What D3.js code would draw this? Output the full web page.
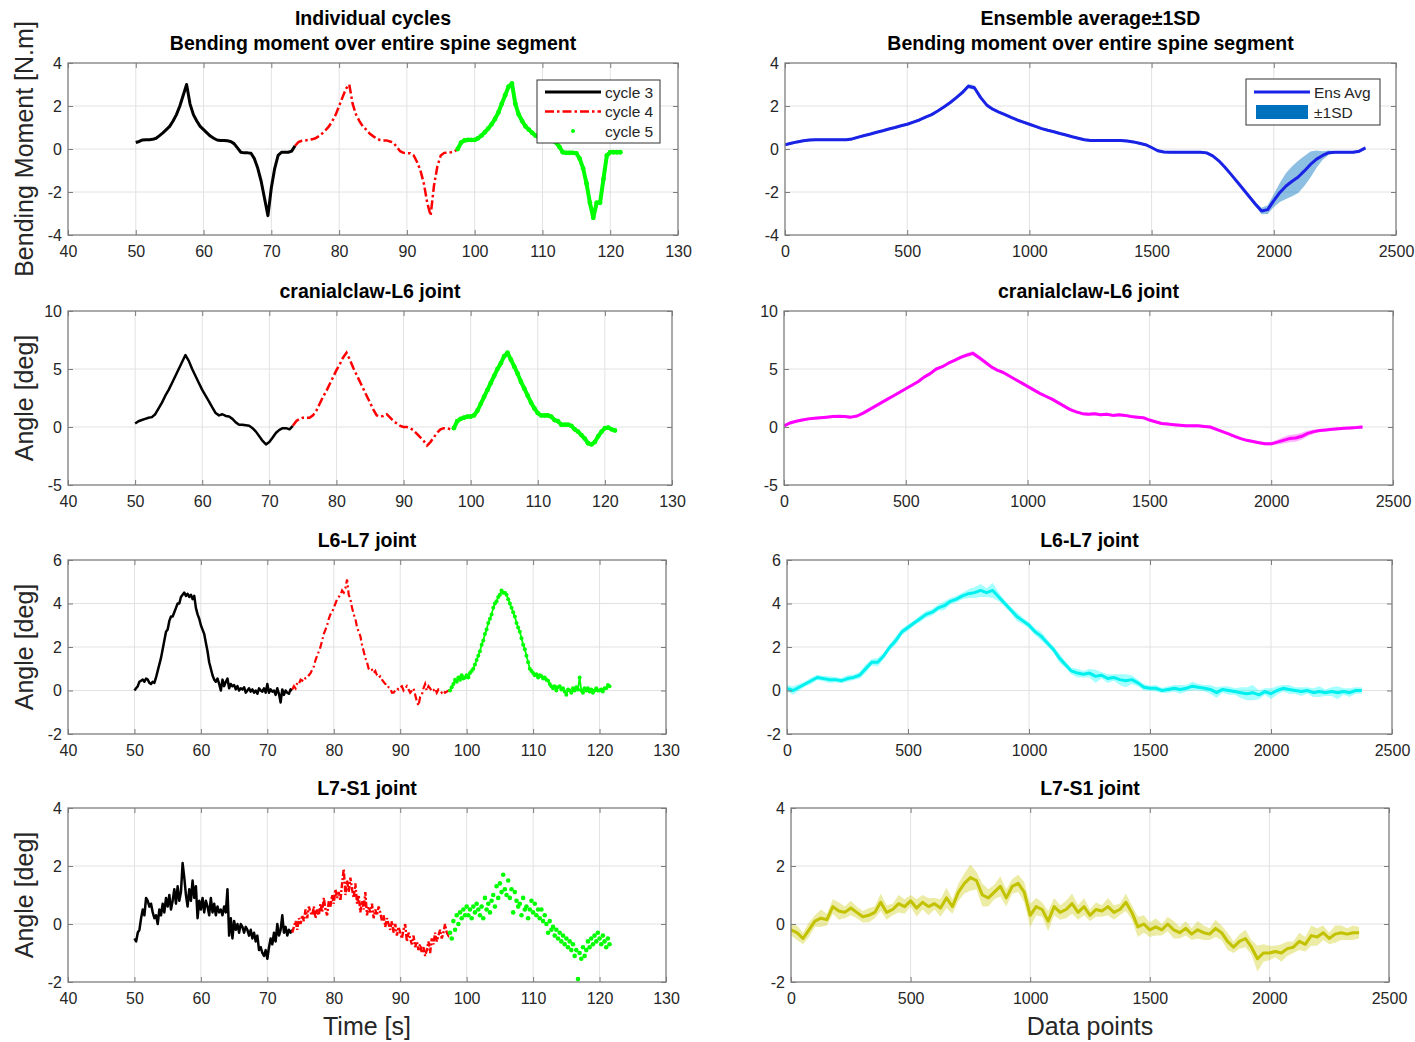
<!DOCTYPE html>
<html><head><meta charset="utf-8">
<script src="https://cdn.jsdelivr.net/npm/d3@7"></script>
<style>body{margin:0;background:#fff}</style>
</head><body>
<svg id="c" width="1415" height="1042" xmlns="http://www.w3.org/2000/svg"></svg>
<script>
// ---------------- DATA ----------------
// Left column: individual cycles, values sampled on a fixed time step from each cycle start
const smoothStarts = [50, 73.5, 97.5];   // s
const smoothStep = 0.5;                  // s
const noisyStarts = [50, 73.75, 97.5];   // s
const noisyStep = 0.25;                  // s
const ensStep = 25;                      // data points

const cycleNames = ["cycle 3", "cycle 4", "cycle 5"];

// Bending moment [N.m]
const bmCycle3 = [0.3,0.35,0.42,0.43,0.43,0.45,0.5,0.62,0.75,0.9,1.05,1.3,1.6,2.0,2.5,3.0,2.1,1.6,1.3,1.05,0.9,0.75,0.6,0.5,0.42,0.4,0.4,0.38,0.35,0.25,0.05,-0.15,-0.18,-0.18,-0.2,-0.45,-0.9,-1.5,-2.3,-3.1,-1.8,-0.9,-0.3,-0.15,-0.15,-0.15,-0.1,0.15];
const bmCycle4 = [0.15,0.32,0.38,0.4,0.42,0.45,0.5,0.6,0.72,0.88,1.05,1.3,1.6,2.0,2.4,2.8,3.0,2.1,1.6,1.3,1.05,0.9,0.72,0.6,0.5,0.42,0.4,0.4,0.35,0.3,0.1,-0.1,-0.18,-0.2,-0.2,-0.3,-0.6,-1.0,-1.6,-2.5,-3.1,-1.7,-0.8,-0.3,-0.18,-0.17,-0.15,-0.12,0.0];
const bmCycle5 = [0.0,0.3,0.4,0.42,0.42,0.42,0.5,0.62,0.78,0.95,1.15,1.4,1.7,2.1,2.5,2.9,3.05,2.1,1.6,1.3,1.05,0.9,0.75,0.62,0.52,0.45,0.42,0.4,0.38,0.3,0.1,-0.15,-0.18,-0.18,-0.18,-0.2,-0.45,-0.9,-1.6,-2.5,-3.2,-2.5,-2.5,-1.4,-0.3,-0.15,-0.15,-0.15,-0.15];

// cranialclaw-L6 angle [deg]
const ccCycle3 = [0.3,0.5,0.6,0.7,0.8,0.85,1.1,1.6,2.1,2.7,3.2,3.8,4.4,5.0,5.6,6.2,5.7,5.0,4.4,3.8,3.2,2.7,2.2,1.7,1.2,1.0,1.1,0.95,0.9,0.7,0.4,0.2,0.2,0.15,0.1,-0.1,-0.4,-0.8,-1.2,-1.5,-1.3,-0.9,-0.5,-0.25,-0.1,-0.1,-0.2,0.1];
const ccCycle4 = [0.1,0.5,0.7,0.8,0.8,0.8,1.0,1.4,2.0,2.6,3.1,3.7,4.3,4.9,5.4,6.0,6.4,5.8,5.1,4.5,3.9,3.3,2.7,2.1,1.5,1.0,0.9,0.95,1.1,0.8,0.5,0.3,0.1,0.0,0.0,-0.1,-0.3,-0.6,-0.9,-1.2,-1.6,-1.3,-0.9,-0.5,-0.2,-0.1,-0.1,-0.2,-0.1];
const ccCycle5 = [-0.1,0.5,0.7,0.8,0.9,0.9,1.0,1.4,2.0,2.6,3.2,3.8,4.4,5.0,5.5,6.1,6.4,5.8,5.2,4.6,3.9,3.3,2.7,2.1,1.6,1.2,1.0,1.0,1.0,0.9,0.6,0.5,0.2,0.2,0.2,0.1,-0.2,-0.4,-0.7,-1.0,-1.4,-1.5,-1.3,-0.8,-0.4,-0.1,-0.05,-0.2,-0.3];

// L6-L7 angle [deg]
const l67Cycle3 = [0.0,0.1,0.2,0.4, 0.45,0.5,0.4,0.55, 0.5,0.35,0.3,0.4, 0.35,0.6,0.9,1.2, 1.5,1.9,2.3,2.7, 2.8,3.2,3.4,3.4, 3.6,3.8,4.0,4.0, 4.3,4.4,4.5,4.35, 4.45,4.3,4.4,4.2, 4.35,3.8,3.5,3.3, 3.0,2.8,2.6,2.2, 1.8,1.3,1.0,0.7, 0.5,0.4,0.55,0.3, 0.0,0.5,0.2,0.4, 0.55,0.1,0.3,0.2, 0.25,0.05,0.2,0.0, 0.1,0.05,0.15,-0.1, 0.0,0.1,-0.05,0.05, -0.1,0.0,-0.15,0.1, 0.0,-0.05,0.1,-0.1, 0.3,-0.1,0.05,-0.05, 0.0,-0.2,0.1,-0.15, -0.55,0.05,-0.2,0.0, -0.1,-0.15,0.05,0.0];
const l67Cycle4 = [0.05, 0.2,0.1,0.35,0.3, 0.5,0.45,0.6,0.55, 0.6,0.7,0.8,0.95, 1.1,1.4,1.6,1.8, 2.0,2.3,2.6,2.8, 3.0,3.3,3.5,3.6, 3.8,4.0,4.2,4.3, 4.4,4.6,4.5,4.7, 5.1,4.4,4.2,3.8, 3.5,3.3,2.9,2.7, 2.5,2.1,1.8,1.5, 1.3,1.0,0.9,0.95, 0.8,0.9,0.7,0.6, 0.65,0.5,0.4,0.3, 0.3,0.15,0.1,-0.1, -0.1,0.0,0.1,0.05, 0.15,0.2,0.0,0.1, 0.2,0.05,-0.1,0.0, 0.1,-0.2,-0.5,-0.7, -0.3,-0.2,0.1,0.3, 0.0,0.2,0.1,-0.05, 0.0,0.1,-0.1,0.05, 0.0,-0.1,0.0,-0.1, -0.05,0.0,0.0];
const l67Cycle5 = [0.0,0.15, 0.3,0.5,0.4,0.6, 0.5,0.7,0.55,0.6, 0.7,0.6,0.8,0.9, 1.0,1.2,1.4,1.6, 1.8,2.1,2.3,2.6, 2.8,3.1,3.3,3.5, 3.8,4.0,4.1,4.3, 4.4,4.6,4.5,4.5, 4.4,4.2,4.0,3.8, 3.6,3.4,3.1,2.9, 2.7,2.4,2.1,1.9, 1.6,1.3,1.0,0.9, 0.8,0.7,0.75,0.6, 0.7,0.65,0.55,0.6, 0.5,0.45,0.3,0.2, 0.1,0.2,0.0,0.15, 0.2,0.05,0.1,-0.05, -0.2,0.05,0.0,-0.1, 0.1,0.0,0.15,0.05, 0.6,0.0,-0.1,0.1, 0.0,0.1,-0.05,0.05, -0.1,0.0,0.1,0.0, 0.0,0.05,-0.05,0.1, 0.1,0.25,0.2];

// L7-S1 angle [deg]
const l7sCycle3 = [-0.5,-0.6,-0.3,-0.2, 0.2,0.5,0.3,0.9, 0.8,0.6,0.7,0.4, 0.2,0.3,0.0,0.5, 0.3,0.7,0.4,0.9, 0.6,1.0,0.5,0.8, 1.2,0.7,1.3,0.8, 1.1,2.1,1.6,1.0, 0.6,1.2,0.8,1.5, 0.9,1.3,0.2,0.8, 0.5,0.9,0.4,0.8, 0.6,0.3,0.9,0.4, 0.7,0.3,0.6,0.4, 0.5,0.3,0.6,0.4, 1.2,-0.4,0.2,-0.5, 0.1,-0.2,0.0,-0.3, 0.0,-0.1,-0.3,-0.1, -0.2,-0.4,-0.2,-0.5, -0.3,-0.6,-0.4,-0.9, -0.8,-1.0,-1.1,-0.9, -1.2,-0.8,-0.5,-0.7, -0.3,-0.6,0.0,-0.4, -0.2,0.3,-0.3,-0.1, -0.4,-0.2,-0.3,-0.2];
const l7sCycle4 = [-0.3, -0.1,0.1,-0.2,0.2, 0.0,0.3,0.1,0.5, 0.2,0.6,0.4,0.3, 0.6,0.2,0.5,0.3, 0.7,0.4,0.9,0.5, 0.3,0.8,0.6,1.0, 0.7,1.2,0.9,1.1, 0.8,1.4,1.9,1.0, 1.5,1.1,1.6,1.2, 0.9,1.4,0.7,1.0, 0.4,0.8,0.5,1.1, 0.3,0.6,0.4,0.7, 0.2,0.5,0.3,0.6, 0.4,0.1,0.3,-0.1, 0.2,0.0,-0.2,0.1, -0.3,0.0,-0.4,-0.1, -0.3,-0.5,-0.2,0.0, -0.6,-0.3,-0.5,-0.7, -0.4,-0.8,-0.6,-0.9, -0.7,-1.0,-0.8,-1.1, -0.9,-0.6,-1.0,-0.5, -0.7,-0.3,-0.6,-0.4, -0.2,-0.5,-0.3,0.0, -0.3,-0.4,-0.3];
const l7sCycle5 = [-0.3,-0.5, 0.1,-0.2,0.3,0.0, 0.4,0.2,0.5,0.3, 0.6,0.3,0.5,0.2, 0.6,0.4,0.7,0.5, 0.3,0.6,0.2,0.9, 0.5,0.7,0.4,0.8, 1.0,0.6,1.3,0.9, 1.4,1.1,1.7,1.2, 1.0,1.5,0.9,1.2, 0.4,1.1,0.8,0.6, 0.7,0.3,0.9,0.5, 0.6,0.2,0.5,0.8, 0.4,0.7,0.3,0.5, 0.2,0.5,0.1,0.3, 0.0,-0.3,0.1,-0.2, -0.1,-0.4,-0.2,-0.5, -0.3,-0.6,-0.4,-0.7, -0.5,-0.8,-0.6,-0.9, -0.7,-1.1,-0.9,-1.9, -1.0,-1.2,-0.8,-1.1, -0.9,-0.6,-0.8,-0.5, -0.7,-0.4,-0.6,-0.3, -0.5,-0.7,-0.4,-0.6, -0.8,-0.5,-0.7];

// Right column: ensemble average and 1 SD, every 25 data points from 0
const bmEnsMean = [0.2,0.27,0.33,0.38,0.42,0.43,0.43,0.43,0.43,0.43,0.43,0.47,0.55,0.63,0.7,0.78,0.85,0.93,1.0,1.08,1.15,1.25,1.35,1.48,1.6,1.77,1.95,2.15,2.38,2.62,2.92,2.85,2.4,2.05,1.85,1.72,1.6,1.47,1.35,1.25,1.15,1.05,0.95,0.87,0.8,0.72,0.65,0.57,0.5,0.43,0.4,0.4,0.4,0.4,0.4,0.39,0.37,0.33,0.27,0.2,0.07,-0.08,-0.14,-0.15,-0.15,-0.15,-0.15,-0.15,-0.15,-0.18,-0.32,-0.55,-0.85,-1.18,-1.52,-1.87,-2.22,-2.57,-2.88,-2.82,-2.4,-2.02,-1.72,-1.5,-1.3,-1.02,-0.72,-0.47,-0.3,-0.17,-0.15,-0.15,-0.15,-0.15,-0.1,0.05];
const bmEnsSD = [0.06,0.06,0.06,0.06,0.06,0.06,0.06,0.06,0.06,0.06,0.06,0.06,0.06,0.06,0.06,0.06,0.06,0.06,0.06,0.06,0.06,0.06,0.06,0.06,0.06,0.06,0.06,0.07,0.08,0.1,0.1,0.1,0.09,0.07,0.06,0.06,0.06,0.06,0.06,0.06,0.06,0.06,0.06,0.06,0.06,0.06,0.06,0.06,0.06,0.06,0.06,0.06,0.06,0.06,0.06,0.06,0.06,0.06,0.06,0.06,0.06,0.06,0.06,0.06,0.06,0.06,0.06,0.06,0.06,0.06,0.06,0.06,0.06,0.06,0.07,0.08,0.08,0.1,0.15,0.2,0.3,0.45,0.6,0.7,0.75,0.7,0.6,0.4,0.2,0.1,0.06,0.06,0.06,0.06,0.06,0.06];

const ccEnsMean = [0.1,0.35,0.5,0.6,0.7,0.75,0.8,0.85,0.9,0.92,0.9,0.85,0.95,1.2,1.5,1.8,2.1,2.4,2.7,3.0,3.3,3.6,3.9,4.3,4.6,5.0,5.2,5.5,5.75,6.0,6.2,6.35,6.0,5.6,5.2,4.9,4.7,4.4,4.1,3.8,3.5,3.2,2.9,2.65,2.4,2.1,1.8,1.5,1.3,1.15,1.1,1.15,1.05,1.1,1.0,1.05,1.0,0.9,0.85,0.8,0.6,0.45,0.3,0.25,0.2,0.15,0.1,0.1,0.1,0.05,0.0,-0.2,-0.4,-0.6,-0.8,-1.0,-1.15,-1.25,-1.35,-1.45,-1.45,-1.3,-1.15,-1.0,-0.95,-0.8,-0.55,-0.4,-0.3,-0.25,-0.2,-0.15,-0.1,-0.08,-0.05,0.0];
const ccEnsSD = [0.12,0.12,0.12,0.12,0.12,0.12,0.12,0.12,0.12,0.12,0.12,0.12,0.12,0.12,0.12,0.12,0.12,0.12,0.12,0.12,0.12,0.12,0.12,0.12,0.12,0.12,0.12,0.12,0.12,0.15,0.18,0.2,0.2,0.18,0.15,0.12,0.12,0.12,0.12,0.12,0.12,0.12,0.12,0.12,0.12,0.12,0.12,0.12,0.12,0.12,0.12,0.12,0.12,0.12,0.12,0.12,0.12,0.12,0.12,0.12,0.12,0.12,0.12,0.12,0.12,0.12,0.12,0.12,0.12,0.12,0.12,0.12,0.12,0.12,0.12,0.12,0.12,0.12,0.12,0.12,0.15,0.2,0.28,0.32,0.32,0.3,0.25,0.18,0.12,0.12,0.12,0.12,0.12,0.12,0.12,0.12];

const l67EnsMean = [0.1,0.0,0.15,0.3,0.45,0.6,0.55,0.5,0.5,0.45,0.55,0.6,0.7,1.0,1.3,1.3,1.6,2.0,2.3,2.7,2.9,3.1,3.3,3.5,3.6,3.8,3.9,4.1,4.2,4.35,4.45,4.5,4.6,4.5,4.6,4.3,4.0,3.7,3.4,3.2,3.0,2.7,2.5,2.2,1.9,1.5,1.2,0.9,0.8,0.75,0.8,0.65,0.7,0.55,0.6,0.5,0.45,0.5,0.35,0.15,0.1,0.1,0.0,0.05,0.1,0.05,0.1,0.2,0.15,0.1,0.05,-0.1,0.05,0.0,-0.05,-0.1,-0.15,-0.1,-0.2,-0.05,-0.15,0.0,0.1,0.05,0.0,-0.05,0.0,-0.1,-0.05,-0.1,-0.05,-0.1,-0.05,-0.1,0.0,0.0];
const l67EnsSD = [0.15,0.2,0.15,0.12,0.15,0.12,0.12,0.15,0.12,0.12,0.15,0.12,0.15,0.2,0.15,0.2,0.15,0.15,0.2,0.15,0.15,0.12,0.15,0.15,0.15,0.15,0.2,0.15,0.15,0.15,0.2,0.25,0.3,0.2,0.35,0.2,0.15,0.15,0.2,0.15,0.15,0.15,0.2,0.15,0.15,0.2,0.15,0.15,0.2,0.15,0.2,0.3,0.15,0.2,0.15,0.25,0.3,0.2,0.15,0.15,0.12,0.15,0.12,0.15,0.15,0.2,0.15,0.2,0.15,0.15,0.2,0.25,0.15,0.2,0.15,0.25,0.3,0.35,0.2,0.15,0.25,0.2,0.15,0.2,0.15,0.2,0.15,0.2,0.25,0.15,0.2,0.3,0.15,0.2,0.15,0.15];

const l7sEnsMean = [-0.2,-0.3,-0.5,-0.2,0.1,0.2,0.15,0.6,0.45,0.4,0.55,0.4,0.25,0.3,0.4,0.75,0.4,0.5,0.7,0.6,0.8,0.55,0.75,0.6,0.7,0.55,0.9,0.6,1.1,1.4,1.6,1.5,1.0,0.9,1.1,1.3,0.9,1.3,1.4,1.1,0.3,0.6,0.5,0.1,0.6,0.4,0.5,0.7,0.4,0.6,0.3,0.5,0.45,0.6,0.4,0.5,0.75,0.4,-0.1,0.0,-0.2,-0.1,-0.2,0.0,-0.2,-0.3,-0.15,-0.35,-0.2,-0.3,-0.35,-0.15,-0.3,-0.6,-0.8,-0.6,-0.5,-0.8,-1.2,-1.0,-1.0,-0.95,-1.0,-0.85,-0.8,-0.6,-0.7,-0.4,-0.45,-0.3,-0.5,-0.35,-0.3,-0.35,-0.3,-0.3];
const l7sEnsSD = [0.2,0.25,0.2,0.25,0.2,0.3,0.2,0.25,0.3,0.2,0.25,0.2,0.2,0.25,0.2,0.3,0.25,0.2,0.3,0.25,0.2,0.3,0.25,0.3,0.2,0.3,0.35,0.25,0.3,0.35,0.45,0.3,0.4,0.3,0.25,0.35,0.3,0.25,0.3,0.35,0.4,0.3,0.25,0.35,0.3,0.25,0.3,0.35,0.25,0.3,0.2,0.25,0.2,0.3,0.25,0.2,0.3,0.25,0.35,0.3,0.25,0.3,0.2,0.25,0.3,0.2,0.25,0.2,0.3,0.25,0.2,0.3,0.25,0.3,0.2,0.25,0.3,0.25,0.45,0.3,0.25,0.2,0.3,0.25,0.2,0.3,0.25,0.35,0.3,0.25,0.2,0.3,0.25,0.2,0.25,0.2];

// Axes ticks and labels
const timeTicks = [40,50,60,70,80,90,100,110,120,130];
const pointTicks = [0,500,1000,1500,2000,2500];
const bmTicks = [-4,-2,0,2,4];
const ccTicks = [-5,0,5,10];
const l67Ticks = [-2,0,2,4,6];
const l7sTicks = [-2,0,2,4];
const leftTitles = [["Individual cycles","Bending moment over entire spine segment"],["cranialclaw-L6 joint"],["L6-L7 joint"],["L7-S1 joint"]];
const rightTitles = [["Ensemble average\u00b11SD","Bending moment over entire spine segment"],["cranialclaw-L6 joint"],["L6-L7 joint"],["L7-S1 joint"]];
const yLabels = ["Bending Moment [N.m]","Angle [deg]","Angle [deg]","Angle [deg]"];
const ensLegend = ["Ens Avg","\u00b11SD"];

// ---------------- DRAWING ----------------
const svg = d3.select('#c');
const FONT = "'Liberation Sans', Arial, Helvetica, sans-serif";
const TXT = '#262626';
const AX = '#7d7d7d';
const fmt = d => String(d);   // plain hyphen-minus like the original
let clipId = 0;

function panel(cfg) {
  const {l, t, r, b} = cfg.box;
  const x = d3.scaleLinear().domain(d3.extent(cfg.xt)).range([l, r]);
  const y = d3.scaleLinear().domain(d3.extent(cfg.yt)).range([b, t]);
  const g = svg.append('g');
  g.append('rect').attr('x', l).attr('y', t).attr('width', r - l).attr('height', b - t).attr('fill', '#fff');
  // grid
  g.append('g').selectAll('line').data(cfg.xt.slice(1, -1)).join('line')
    .attr('x1', d => x(d)).attr('x2', d => x(d)).attr('y1', t).attr('y2', b)
    .attr('stroke', '#e2e2e2').attr('stroke-width', 1);
  g.append('g').selectAll('line').data(cfg.yt.slice(1, -1)).join('line')
    .attr('y1', d => y(d)).attr('y2', d => y(d)).attr('x1', l).attr('x2', r)
    .attr('stroke', '#e2e2e2').attr('stroke-width', 1);
  // data
  const id = 'clip' + (clipId++);
  g.append('clipPath').attr('id', id).append('rect').attr('x', l).attr('y', t).attr('width', r - l).attr('height', b - t);
  const gd = g.append('g').attr('clip-path', `url(#${id})`);
  cfg.draw(gd, x, y);
  // axes
  const styleAxis = (sel) => {
    sel.select('.domain').remove();
    sel.selectAll('.tick line').attr('stroke', AX).attr('stroke-width', 1);
    sel.selectAll('.tick text').attr('fill', TXT).attr('font-family', FONT).attr('font-size', 16);
  };
  g.append('g').attr('transform', `translate(0,${b})`)
    .call(d3.axisBottom(x).tickValues(cfg.xt).tickSize(-5).tickPadding(11).tickFormat(fmt)).call(styleAxis);
  g.append('g').attr('transform', `translate(0,${t})`)
    .call(d3.axisTop(x).tickValues(cfg.xt).tickSize(-5).tickFormat('')).call(styleAxis);
  g.append('g').attr('transform', `translate(${l},0)`)
    .call(d3.axisLeft(y).tickValues(cfg.yt).tickSize(-5).tickPadding(6).tickFormat(fmt)).call(styleAxis);
  g.append('g').attr('transform', `translate(${r},0)`)
    .call(d3.axisRight(y).tickValues(cfg.yt).tickSize(-5).tickFormat('')).call(styleAxis);
  g.append('rect').attr('x', l).attr('y', t).attr('width', r - l).attr('height', b - t)
    .attr('fill', 'none').attr('stroke', AX).attr('stroke-width', 1.3);
  // title
  const cx = (l + r) / 2;
  const lines = cfg.title;
  lines.forEach((s, i) => {
    svg.append('text').attr('x', cx).attr('y', t - 13 - (lines.length - 1 - i) * 25)
      .attr('text-anchor', 'middle').attr('font-family', FONT).attr('font-weight', 'bold')
      .attr('font-size', 19.5).attr('fill', '#000').text(s);
  });
  if (cfg.ylabel) {
    svg.append('text').attr('transform', `translate(33,${(t + b) / 2}) rotate(-90)`)
      .attr('text-anchor', 'middle').attr('font-family', FONT).attr('font-size', 25)
      .attr('fill', TXT).text(cfg.ylabel);
  }
  if (cfg.xlabel) {
    svg.append('text').attr('x', cx).attr('y', b + 53).attr('text-anchor', 'middle')
      .attr('font-family', FONT).attr('font-size', 25).attr('fill', TXT).text(cfg.xlabel);
  }
  return {x, y, g};
}

const pts = (vals, t0, dt) => vals.map((v, i) => [t0 + i * dt, v]);

function drawCycles(sets, starts, step, opts) {
  return (g, x, y) => {
    const line = d3.line().x(d => x(d[0])).y(d => y(d[1]));
    // cycle 3: black solid
    g.append('path').datum(pts(sets[0], starts[0], step)).attr('d', line)
      .attr('fill', 'none').attr('stroke', '#000').attr('stroke-width', opts.bw).attr('stroke-linejoin', 'round');
    // cycle 4: red dash-dot
    g.append('path').datum(pts(sets[1], starts[1], step)).attr('d', line)
      .attr('fill', 'none').attr('stroke', '#ff0000').attr('stroke-width', opts.rw)
      .attr('stroke-dasharray', opts.dash);
    // cycle 5: green dots
    const gp = pts(sets[2], starts[2], step);
    if (opts.gLine) {
      g.append('path').datum(gp).attr('d', line).attr('fill', 'none')
        .attr('stroke', '#00ff00').attr('stroke-width', opts.gLine).attr('stroke-linejoin', 'round');
    }
    g.append('g').selectAll('circle').data(gp).join('circle')
      .attr('cx', d => x(d[0])).attr('cy', d => y(d[1])).attr('r', opts.gr).attr('fill', '#00ff00');
  };
}

function drawEnsemble(mean, sd, color, bandColor, bandOpacity) {
  return (g, x, y) => {
    const data = mean.map((m, i) => ({p: i * ensStep, m, s: sd[i]}));
    g.append('path').datum(data)
      .attr('d', d3.area().x(d => x(d.p)).y0(d => y(d.m - d.s)).y1(d => y(d.m + d.s)))
      .attr('fill', bandColor).attr('fill-opacity', bandOpacity).attr('stroke', 'none');
    g.append('path').datum(data)
      .attr('d', d3.line().x(d => x(d.p)).y(d => y(d.m)))
      .attr('fill', 'none').attr('stroke', color).attr('stroke-width', 3).attr('stroke-linejoin', 'round');
  };
}

const leftBoxes = [
  {l: 68, t: 63, r: 678, b: 235},
  {l: 68, t: 311, r: 672, b: 485},
  {l: 68, t: 560, r: 666, b: 734},
  {l: 68, t: 808, r: 666, b: 982}
];
const rightBoxes = [
  {l: 785, t: 63, r: 1396, b: 235},
  {l: 784, t: 311, r: 1393, b: 485},
  {l: 787, t: 560, r: 1392, b: 734},
  {l: 791, t: 808, r: 1389, b: 982}
];
const yTickSets = [bmTicks, ccTicks, l67Ticks, l7sTicks];

const leftDraws = [
  drawCycles([bmCycle3, bmCycle4, bmCycle5], smoothStarts, smoothStep, {bw: 3, rw: 2.5, dash: '9,3,2.5,3', gLine: 4, gr: 2.4}),
  drawCycles([ccCycle3, ccCycle4, ccCycle5], smoothStarts, smoothStep, {bw: 2.5, rw: 2.5, dash: '9,3,2.5,3', gLine: 4, gr: 2.4}),
  drawCycles([l67Cycle3, l67Cycle4, l67Cycle5], noisyStarts, noisyStep, {bw: 2.5, rw: 2.2, dash: '7,3,2,3', gLine: 1.8, gr: 2}),
  drawCycles([l7sCycle3, l7sCycle4, l7sCycle5], noisyStarts, noisyStep, {bw: 2.5, rw: 2.4, dash: '6,2,2,2', gLine: 0, gr: 2.3})
];
const rightDraws = [
  drawEnsemble(bmEnsMean, bmEnsSD, '#1a22e6', '#0072bd', 0.45),
  drawEnsemble(ccEnsMean, ccEnsSD, '#ff00ff', '#ff00ff', 0.3),
  drawEnsemble(l67EnsMean, l67EnsSD, '#00f0f0', '#00ffff', 0.35),
  drawEnsemble(l7sEnsMean, l7sEnsSD, '#c2c200', '#c8c800', 0.35)
];

for (let i = 0; i < 4; i++) {
  panel({box: leftBoxes[i], xt: timeTicks, yt: yTickSets[i], title: leftTitles[i],
         ylabel: yLabels[i], xlabel: i === 3 ? 'Time [s]' : null, draw: leftDraws[i]});
  panel({box: rightBoxes[i], xt: pointTicks, yt: yTickSets[i], title: rightTitles[i],
         ylabel: null, xlabel: i === 3 ? 'Data points' : null, draw: rightDraws[i]});
}

// Legend: individual cycles
(function () {
  const g = svg.append('g');
  g.append('rect').attr('x', 537).attr('y', 80).attr('width', 123).attr('height', 63)
    .attr('fill', '#fff').attr('stroke', '#333').attr('stroke-width', 1);
  const ys = [92, 111.5, 131];
  g.append('line').attr('x1', 545).attr('x2', 601).attr('y1', ys[0]).attr('y2', ys[0]).attr('stroke', '#000').attr('stroke-width', 3);
  g.append('line').attr('x1', 545).attr('x2', 601).attr('y1', ys[1]).attr('y2', ys[1]).attr('stroke', '#ff0000').attr('stroke-width', 2.5).attr('stroke-dasharray', '9,3,2.5,3');
  g.append('circle').attr('cx', 573).attr('cy', ys[2]).attr('r', 2).attr('fill', '#00ff00');
  cycleNames.forEach((s, i) => g.append('text').attr('x', 605).attr('y', ys[i] + 5.5)
    .attr('font-family', FONT).attr('font-size', 15.5).attr('fill', TXT).text(s));
})();

// Legend: ensemble
(function () {
  const g = svg.append('g');
  g.append('rect').attr('x', 1246).attr('y', 79).attr('width', 134).attr('height', 46)
    .attr('fill', '#fff').attr('stroke', '#333').attr('stroke-width', 1);
  g.append('line').attr('x1', 1254).attr('x2', 1310).attr('y1', 92).attr('y2', 92).attr('stroke', '#1a22e6').attr('stroke-width', 3);
  g.append('rect').attr('x', 1256).attr('y', 105).attr('width', 52).attr('height', 14).attr('fill', '#0072bd');
  ensLegend.forEach((s, i) => g.append('text').attr('x', 1314).attr('y', 92 + i * 20 + 5.5)
    .attr('font-family', FONT).attr('font-size', 15.5).attr('fill', TXT).text(s));
})();
</script>
</body></html>
